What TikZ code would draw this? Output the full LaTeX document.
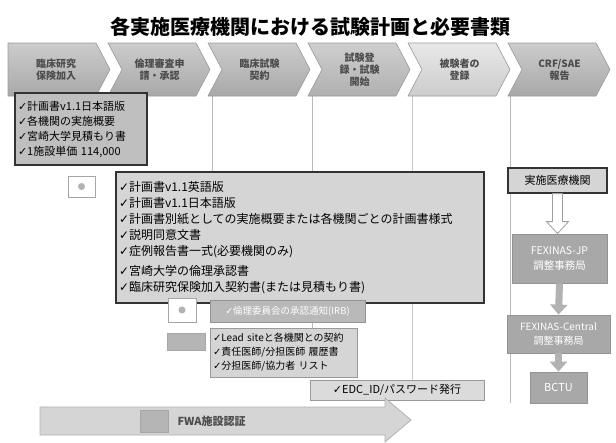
\documentclass[tikz,border=0pt]{standalone}
\usepackage{fontspec}
\setmainfont{Noto Sans CJK JP}
\newfontfamily\dvfont{DejaVu Sans}
\newcommand\ck{{\dvfont\char"2713}}
\usetikzlibrary{arrows.meta,calc}
\tikzset{
  chevbase/.style={draw=gray!80,line width=0.6pt},
  chevtext/.style={align=center,text=black!70,font=\bfseries\fontsize{10}{12}\selectfont},
  vline/.style={draw=gray!55,line width=0.8pt},
  docbox/.style={draw=black!80,line width=1.2pt,fill=gray!30,align=left,inner sep=3pt,anchor=center},
  darkbox/.style={draw=gray!85,line width=0.8pt,fill=gray!68,text=white,align=center,inner sep=2pt},
  flagbox/.style={draw=gray!70,line width=0.8pt,fill=white,inner sep=0pt},
  flagdark/.style={draw=gray!70,line width=0.8pt,fill=gray!58,inner sep=0pt},
  solidarrow/.style={draw=gray!60,line width=7pt,-{Triangle[width=17pt,length=10pt]}},
  hollowarrow/.style={draw=gray!75,fill=white,line width=0.8pt},
}
\newcommand\mychev[5]{%
  \draw[chevbase,#5] (#1,43) -- ++(88,0) -- ++(14,26.5) -- ++(-14,26.5) -- ++(-88,0) -- ++(#2,-26.5) -- cycle;
  \node[chevtext] (#3) at (#1+48+#2/4,69.5) {#4};
}
\begin{document}
\begin{tikzpicture}[x=1pt,y=-1pt]
\useasboundingbox[fill=white] (0,0) rectangle (616,442);

% title
\node[font=\bfseries\fontsize{20}{22}\selectfont] (title) at (310,27) {各実施医療機関における試験計画と必要書類};

% vertical lines
\draw[vline] (212,96) -- (212,300);
\draw[vline] (312,96) -- (312,328);
\draw[vline,gray!45] (412,96) -- (412,400);
\draw[vline] (510,96) -- (510,403);

% chevrons
\mychev{8}{0}{c1}{臨床研究\\保険加入}{top color=gray!40,bottom color=gray!68}
\mychev{108}{14}{c2}{倫理審査申\\請・承認}{top color=gray!40,bottom color=gray!68}
\mychev{208}{14}{c3}{臨床試験\\契約}{top color=gray!40,bottom color=gray!68}
\mychev{308}{14}{c4}{試験登\\録・試験\\開始}{top color=gray!38,bottom color=gray!62}
\mychev{408}{14}{c5}{被験者の\\登録}{top color=gray!18,bottom color=gray!40}
\mychev{508}{14}{c6}{CRF/SAE\\報告}{top color=gray!40,bottom color=gray!68}

% left box
\node[docbox,fill=gray!50,line width=1.6pt,text width=126pt,minimum height=72pt,
      font=\fontsize{11}{15}\selectfont] (lbox) at (81,129)
  {\ck 計画書v1.1日本語版\\\ck 各機関の実施概要\\\ck 宮崎大学見積もり書\\\ck 1施設単価 114,000};

% flag 1
\node[flagbox,minimum width=27pt,minimum height=21pt] (flag1) at (81.5,186.5) {};
\fill[gray!60] (flag1.center) circle (3.5pt);

% big box
\node[docbox,fill=gray!33,text width=362pt,minimum height=131pt,
      font=\fontsize{12}{16}\selectfont] (bbox) at (300,237.5)
  {\ck 計画書v1.1英語版\\
   \ck 計画書v1.1日本語版\\
   \ck 計画書別紙としての実施概要または各機関ごとの計画書様式\\
   \ck 説明同意文書\\
   \ck 症例報告書一式(必要機関のみ)\\[4pt]
   \ck 宮崎大学の倫理承認書\\
   \ck 臨床研究保険加入契約書(または見積もり書)};

% flag 2 and 3
\node[flagbox,minimum width=28pt,minimum height=24pt] (flag2) at (182,310) {};
\fill[gray!60] (flag2.center) circle (3.5pt);
\node[flagdark,minimum width=38pt,minimum height=17pt] (flag3) at (186,341.5) {};

% small notice box
\node[darkbox,fill=gray!55,minimum width=155pt,minimum height=22pt,
      font=\fontsize{9.5}{11}\selectfont] (sbox) at (287.5,311)
  {\ck 倫理委員会の承認通知(IRB)};

% contract box
\node[docbox,draw=gray!80,line width=0.8pt,fill=gray!33,text width=141pt,minimum height=49pt,
      font=\fontsize{10}{14}\selectfont] (cbox) at (283.5,352.5)
  {\ck Lead siteと各機関との契約\\\ck 責任医師/分担医師 履歴書\\\ck 分担医師/協力者 リスト};

% EDC box
\node[docbox,draw=gray!80,line width=0.8pt,fill=gray!28,minimum width=174pt,minimum height=20pt,
      inner sep=1pt,font=\fontsize{11}{13}\selectfont] (ebox) at (397,390)
  {\ck EDC\_ID/パスワード発行};

% big arrow
\draw[draw=gray!60,fill=gray!33,line width=0.8pt]
  (40,407) -- (385,407) -- (385,398) -- (411,420) -- (385,442) -- (385,435) -- (40,435) -- cycle;
\node[flagdark,minimum width=28pt,minimum height=22pt] (flag4) at (154,421) {};
\node[anchor=west,font=\bfseries\fontsize{11}{13}\selectfont,text=black!70] (fwa) at (174,421) {FWA施設認証};

% right column
\node[docbox,fill=gray!33,minimum width=99pt,minimum height=25pt,inner sep=1pt,
      font=\fontsize{11}{13}\selectfont,align=center] (r1) at (557.5,180.5) {実施医療機関};
\node[darkbox,minimum width=95pt,minimum height=49pt,font=\fontsize{10.5}{15}\selectfont] (r2) at (559.5,258.5)
  {FEXINAS-JP\\調整事務局};
\node[darkbox,minimum width=103pt,minimum height=38pt,font=\fontsize{10}{14}\selectfont] (r3) at (558.5,334)
  {FEXINAS-Central\\調整事務局};
\node[darkbox,minimum width=57pt,minimum height=31pt,font=\fontsize{11}{13}\selectfont] (r4) at (558.5,387.5)
  {BCTU};

\draw[hollowarrow] let \p1=(r1.south), \p2=(r2.north) in
  (\x1-5pt,\y1) -- (\x1+5pt,\y1) -- (\x1+5pt,\y2+12pt) -- (\x1+11pt,\y2+12pt) -- (\x1,\y2)
  -- (\x1-11pt,\y2+12pt) -- (\x1-5pt,\y2+12pt) -- cycle;
\draw[solidarrow] (r2.south) -- (r3.north);
\draw[solidarrow] (r3.south) -- (r4.north);
\end{tikzpicture}
\end{document}
